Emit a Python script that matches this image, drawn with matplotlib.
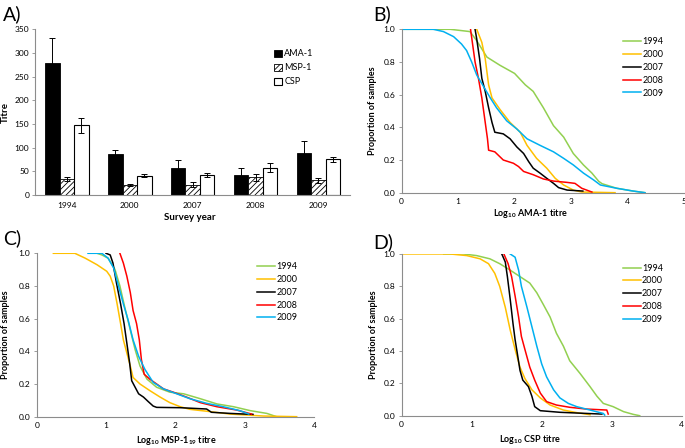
import matplotlib
matplotlib.use("Agg")
import matplotlib.pyplot as plt
import numpy as np

plt.rcParams['font.family'] = ['Lato', 'DejaVu Sans']
plt.rcParams['mathtext.fontset'] = 'custom'
plt.rcParams['mathtext.rm'] = 'Lato'
plt.rcParams['mathtext.bf'] = 'Lato:bold'
plt.rcParams['hatch.linewidth'] = 0.6

# ---- panel A data ----
years = ['1994', '2000', '2007', '2008', '2009']
ama_mean = [279, 87, 56, 42, 88]
ama_err = [53, 9, 17, 14, 25]
msp_mean = [33, 22, 22, 37, 31]
msp_err = [4, 2, 5, 8, 5]
csp_mean = [147, 41, 43, 58, 75]
csp_err = [16, 3, 4, 10, 6]

# ---- panel B: log10 AMA-1 titre, proportion of samples ----
ama_1994 = [(0, 1.0), (0.86, 1.0), (1.21, 0.986), (1.33, 0.93), (1.51, 0.83), (1.74, 0.78),
            (2.0, 0.73), (2.19, 0.66), (2.33, 0.62), (2.51, 0.52), (2.69, 0.41), (2.87, 0.34),
            (3.04, 0.24), (3.22, 0.17), (3.37, 0.12), (3.49, 0.07), (3.55, 0.055), (3.81, 0.027),
            (4.1, 0.01), (4.31, 0.0)]
ama_2000 = [(1.33, 1.0), (1.42, 0.92), (1.48, 0.82), (1.54, 0.66), (1.60, 0.58), (1.74, 0.51),
            (1.92, 0.43), (2.10, 0.37), (2.22, 0.29), (2.39, 0.21), (2.57, 0.15), (2.72, 0.088),
            (2.87, 0.047), (3.04, 0.016), (3.19, 0.004), (3.78, 0.0)]
ama_2007 = [(1.30, 1.0), (1.33, 0.94), (1.38, 0.82), (1.42, 0.70), (1.48, 0.62), (1.54, 0.52),
            (1.60, 0.43), (1.65, 0.37), (1.80, 0.36), (1.92, 0.33), (2.04, 0.28), (2.16, 0.24),
            (2.25, 0.19), (2.33, 0.15), (2.45, 0.12), (2.57, 0.088), (2.69, 0.057), (2.78, 0.031),
            (2.93, 0.016), (3.21, 0.01)]
ama_2008 = [(1.22, 1.0), (1.26, 0.90), (1.30, 0.80), (1.36, 0.70), (1.42, 0.58), (1.48, 0.43),
            (1.52, 0.33), (1.54, 0.26), (1.65, 0.25), (1.74, 0.22), (1.80, 0.20), (1.98, 0.18),
            (2.07, 0.16), (2.16, 0.13), (2.33, 0.11), (2.51, 0.084), (2.69, 0.071), (2.93, 0.063),
            (3.07, 0.057), (3.19, 0.027), (3.37, 0.004)]
ama_2009 = [(0, 1.0), (0.56, 1.0), (0.74, 0.986), (0.92, 0.955), (1.06, 0.91), (1.15, 0.87),
            (1.24, 0.80), (1.33, 0.72), (1.45, 0.65), (1.57, 0.58), (1.68, 0.52), (1.86, 0.44),
            (2.04, 0.39), (2.22, 0.33), (2.45, 0.29), (2.69, 0.25), (2.87, 0.21), (3.04, 0.17),
            (3.22, 0.12), (3.40, 0.078), (3.52, 0.047), (3.81, 0.027), (4.1, 0.01), (4.31, 0.0)]

# ---- panel C: log10 MSP-1 19 titre ----
msp_1994 = [(0.87, 1.0), (0.94, 0.99), (1.03, 0.97), (1.13, 0.90), (1.20, 0.80), (1.27, 0.67),
            (1.35, 0.53), (1.42, 0.41), (1.49, 0.31), (1.59, 0.23), (1.73, 0.18), (1.92, 0.15),
            (2.12, 0.14), (2.36, 0.11), (2.6, 0.078), (2.84, 0.061), (3.08, 0.037), (3.32, 0.02),
            (3.46, 0.0)]
msp_2000 = [(0.24, 1.0), (0.55, 1.0), (0.70, 0.97), (0.87, 0.93), (1.01, 0.89), (1.06, 0.86),
            (1.11, 0.80), (1.16, 0.69), (1.21, 0.57), (1.25, 0.47), (1.30, 0.39), (1.35, 0.31),
            (1.39, 0.24), (1.49, 0.20), (1.63, 0.16), (1.78, 0.12), (1.92, 0.086), (2.07, 0.061),
            (2.21, 0.045), (2.5, 0.031), (2.79, 0.016), (3.27, 0.004), (3.75, 0.0)]
msp_2007 = [(1.0, 1.0), (1.06, 0.99), (1.10, 0.94), (1.15, 0.82), (1.21, 0.69), (1.26, 0.57),
            (1.30, 0.45), (1.34, 0.33), (1.37, 0.22), (1.42, 0.18), (1.47, 0.14), (1.54, 0.12),
            (1.61, 0.092), (1.68, 0.065), (1.73, 0.057), (2.07, 0.055), (2.45, 0.047),
            (2.52, 0.027), (2.79, 0.02), (3.12, 0.014)]
msp_2008 = [(1.2, 1.0), (1.25, 0.94), (1.30, 0.86), (1.35, 0.76), (1.39, 0.65), (1.44, 0.57),
            (1.48, 0.47), (1.51, 0.35), (1.55, 0.26), (1.63, 0.23), (1.73, 0.20), (1.83, 0.17),
            (1.97, 0.15), (2.16, 0.12), (2.36, 0.086), (2.6, 0.061), (2.88, 0.041), (3.10, 0.016)]
msp_2009 = [(0.74, 1.0), (0.94, 1.0), (1.03, 0.97), (1.11, 0.91), (1.18, 0.80), (1.25, 0.69),
            (1.32, 0.59), (1.39, 0.47), (1.47, 0.37), (1.56, 0.29), (1.68, 0.21), (1.83, 0.17),
            (2.02, 0.14), (2.21, 0.11), (2.45, 0.082), (2.69, 0.061), (2.93, 0.037), (3.06, 0.016)]

# ---- panel D: log10 CSP titre ----
csp_1994 = [(0.6, 1.0), (0.88, 1.0), (1.07, 0.99), (1.26, 0.97), (1.40, 0.94), (1.55, 0.90),
            (1.69, 0.86), (1.83, 0.82), (1.93, 0.76), (2.02, 0.69), (2.12, 0.61), (2.21, 0.51),
            (2.31, 0.43), (2.40, 0.34), (2.55, 0.26), (2.69, 0.18), (2.79, 0.12), (2.88, 0.076),
            (3.02, 0.056), (3.17, 0.025), (3.31, 0.008), (3.40, 0.0)]
csp_2000 = [(0, 1.0), (0.69, 1.0), (0.93, 0.99), (1.12, 0.97), (1.24, 0.94), (1.33, 0.88),
            (1.40, 0.80), (1.48, 0.67), (1.55, 0.53), (1.62, 0.41), (1.69, 0.30), (1.76, 0.23),
            (1.86, 0.16), (1.98, 0.11), (2.12, 0.066), (2.31, 0.035), (2.50, 0.019), (2.69, 0.006)]
csp_2007 = [(1.43, 1.0), (1.48, 0.95), (1.51, 0.86), (1.55, 0.72), (1.59, 0.57), (1.62, 0.47),
            (1.65, 0.39), (1.69, 0.28), (1.73, 0.22), (1.81, 0.18), (1.86, 0.12), (1.90, 0.056),
            (1.98, 0.031), (2.26, 0.021), (2.64, 0.014), (2.86, 0.01)]
csp_2008 = [(1.46, 1.0), (1.52, 0.94), (1.57, 0.86), (1.62, 0.74), (1.67, 0.61), (1.71, 0.49),
            (1.76, 0.41), (1.83, 0.30), (1.90, 0.22), (1.98, 0.14), (2.07, 0.087), (2.21, 0.066),
            (2.40, 0.052), (2.64, 0.041), (2.93, 0.035), (2.95, 0.01)]
csp_2009 = [(1.55, 1.0), (1.62, 0.98), (1.67, 0.90), (1.71, 0.80), (1.79, 0.67), (1.86, 0.55),
            (1.93, 0.43), (2.00, 0.32), (2.07, 0.24), (2.17, 0.16), (2.26, 0.11), (2.38, 0.076),
            (2.50, 0.056), (2.69, 0.035), (2.88, 0.014), (2.90, 0.004)]

line_colors = ['#92D050', '#FFC000', '#000000', '#FF0000', '#00B0F0']
spine_col = '#8C8C8C'

fig = plt.figure(figsize=(6.85, 4.48), dpi=100)

def style_ax(ax, xpad=5):
    for s in ['top', 'right']:
        ax.spines[s].set_visible(False)
    for s in ['left', 'bottom']:
        ax.spines[s].set_color(spine_col)
        ax.spines[s].set_linewidth(0.8)
    ax.tick_params(axis='y', length=2.5, width=0.6, color=spine_col, labelsize=6, pad=2)
    ax.tick_params(axis='x', length=0, labelsize=6, pad=xpad)

# ---- A) bar chart ----
axA = fig.add_axes([0.0518, 0.5647, 0.459, 0.370])
x = np.arange(len(years))
w = 0.23
ekw = dict(ecolor='black', elinewidth=0.7, capsize=2, capthick=0.7)
axA.bar(x - w, ama_mean, w, yerr=ama_err, color='black', edgecolor='black', linewidth=0.6,
        label='AMA-1', error_kw=ekw)
axA.bar(x, msp_mean, w, yerr=msp_err, color='white', edgecolor='black', linewidth=0.6,
        hatch='//////', label='MSP-1', error_kw=ekw)
axA.bar(x + w, csp_mean, w, yerr=csp_err, color='white', edgecolor='black', linewidth=0.8,
        label='CSP', error_kw=ekw)
axA.set_xlim(-0.5, 4.5)
axA.set_ylim(0, 350)
axA.set_yticks(np.arange(0, 351, 50))
axA.set_xticks(x)
axA.set_xticklabels(years)
style_ax(axA)
axA.set_ylabel('Titre', fontsize=7, fontweight='bold')
axA.yaxis.set_label_coords(-0.082, 0.5)
axA.set_xlabel('Survey year', fontsize=7, fontweight='bold')
axA.xaxis.set_label_coords(0.49, -0.109)
axA.legend(loc='upper left', bbox_to_anchor=(0.76, 0.878), frameon=False, fontsize=6.5,
           handlelength=0.8, handleheight=0.8, handletextpad=0.3, labelspacing=0.55,
           borderpad=0, borderaxespad=0)

# ---- curve panels ----
def curve_panel(rect, series, xmax, xlabel, xlab_pos, ylab_x, leg_anchor):
    ax = fig.add_axes(rect)
    for pts, col, yr in zip(series, line_colors, years):
        xs, ys = zip(*pts)
        ax.plot(xs, ys, color=col, lw=1.1, label=yr)
    ax.set_xlim(0, xmax)
    ax.set_ylim(0, 1.0)
    ax.set_xticks(np.arange(0, xmax + 1, 1))
    ax.set_yticks(np.arange(0, 1.01, 0.2))
    ax.set_yticklabels(['%.1f' % v for v in np.arange(0, 1.01, 0.2)])
    style_ax(ax, xpad=4)
    ax.set_ylabel('Proportion of samples', fontsize=6.5, fontweight='bold')
    ax.yaxis.set_label_coords(ylab_x, 0.5)
    ax.set_xlabel(xlabel, fontsize=6.5, fontweight='bold')
    ax.xaxis.set_label_coords(*xlab_pos)
    ax.legend(loc='upper left', bbox_to_anchor=leg_anchor, frameon=False, fontsize=6.5,
              handlelength=2.0, handletextpad=0.1, labelspacing=0.42,
              borderpad=0, borderaxespad=0)
    return ax

curve_panel([0.5864, 0.5699, 0.412, 0.3647],
            [ama_1994, ama_2000, ama_2007, ama_2008, ama_2009], 5,
            r'Log$_{\mathbf{10}}$ AMA-1 titre', (0.455, -0.09), -0.0875, (0.785, 0.95))
curve_panel([0.0536, 0.0699, 0.4048, 0.3647],
            [msp_1994, msp_2000, msp_2007, msp_2008, msp_2009], 4,
            r'Log$_{\mathbf{10}}$ MSP-1$_{\mathbf{19}}$ titre', (0.505, -0.105), -0.096,
            (0.796, 0.945))
curve_panel([0.5864, 0.0721, 0.4088, 0.361],
            [csp_1994, csp_2000, csp_2007, csp_2008, csp_2009], 4,
            r'Log$_{\mathbf{10}}$ CSP titre', (0.458, -0.11), -0.085, (0.79, 0.94))

fig.text(0.004, 0.955, 'A)', fontsize=14)
fig.text(0.545, 0.955, 'B)', fontsize=14)
fig.text(0.004, 0.455, 'C)', fontsize=14)
fig.text(0.545, 0.445, 'D)', fontsize=14)

fig.savefig('out.png', dpi=100)
